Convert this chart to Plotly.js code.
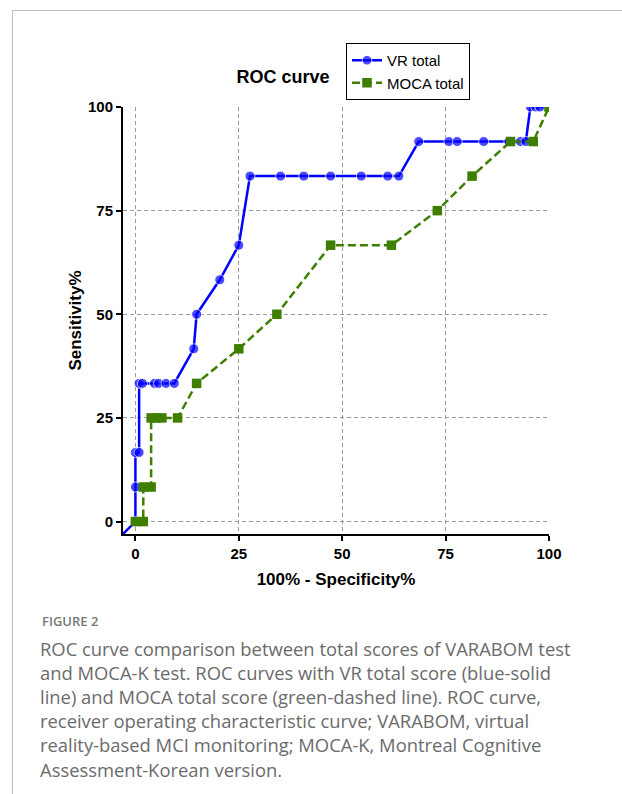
<!DOCTYPE html>
<html>
<head>
<meta charset="utf-8">
<script src="https://cdn.plot.ly/plotly-3.0.1.min.js"></script>
<style>
  html, body { margin: 0; padding: 0; background: #fff; }
  #wrap { position: relative; width: 622px; height: 794px; }
  #chart { position: absolute; left: 0; top: 0; width: 622px; height: 794px; }
  #frame { position: absolute; left: 12px; top: 10px; width: 610px; height: 784px;
           border-top: 1px solid #bdbdbd; border-left: 1px solid #bdbdbd; pointer-events: none; }
</style>
</head>
<body>
<div id="wrap"><div id="chart"></div><div id="frame"></div></div>
<script>
// ---- data ----
const vrX = [-5, 0, 0, 0, 0.9, 0.9, 1.7, 4.6, 5.6, 7.4, 9.4, 14.1, 14.8, 20.4, 25.0,
             27.7, 35.1, 40.7, 47.2, 54.6, 61.0, 63.7,
             68.5, 75.8, 77.8, 84.2, 90.3, 93.1, 94.4,
             95.5, 96.8, 97.8, 100];
const vrY = [-5, 0, 8.33, 16.67, 16.67, 33.33, 33.33, 33.33, 33.33, 33.33, 33.33, 41.67, 50, 58.33, 66.67,
             83.33, 83.33, 83.33, 83.33, 83.33, 83.33, 83.33,
             91.67, 91.67, 91.67, 91.67, 91.67, 91.67, 91.67,
             100, 100, 100, 100];
const mocaX = [0, 1.9, 1.9, 3.8, 3.8, 5.0, 6.4, 10.2, 14.8, 25.0, 34.2, 47.2, 61.9, 73.0, 81.4, 90.7, 96.2, 100];
const mocaY = [0, 0, 8.33, 8.33, 25, 25, 25, 25, 33.33, 41.67, 50, 66.67, 66.67, 75, 83.33, 91.67, 91.67, 100];
const tickVals = [0, 25, 50, 75, 100];
const seriesNames = ['VR total', 'MOCA total'];
const chartTitle = 'ROC curve';
const xTitle = '100% - Specificity%';
const yTitle = 'Sensitivity%';
const captionHead = 'FIGURE 2';
const captionLines = [
  'ROC curve comparison between total scores of VARABOM test',
  'and MOCA-K test. ROC curves with VR total score (blue-solid',
  'line) and MOCA total score (green-dashed line). ROC curve,',
  'receiver operating characteristic curve; VARABOM, virtual',
  'reality-based MCI monitoring; MOCA-K, Montreal Cognitive',
  'Assessment-Korean version.'
];

// ---- geometry helpers (pixels -> paper) ----
const W = 622, H = 794;
const M = {l: 123, r: 73, t: 107, b: 260};
const plotW = W - M.l - M.r, plotH = H - M.t - M.b;
const px2x = px => (px - M.l) / plotW;
const py2y = py => (H - M.b - py) / plotH;

const vrSizes = vrX.map(x => (x < 0 ? 0 : 10));

const traces = [
  {
    x: vrX, y: vrY, name: seriesNames[0], type: 'scatter', mode: 'lines+markers',
    line: {color: '#0000ff', width: 2.5},
    marker: {color: '#0000ff', size: vrSizes, symbol: 'circle'},
    cliponaxis: true
  },
  {
    x: mocaX, y: mocaY, name: seriesNames[1], type: 'scatter', mode: 'lines+markers',
    line: {color: '#3f7f00', width: 2.5, dash: '8px,4px'},
    marker: {color: '#3f7f00', size: 9.5, symbol: 'square'},
    cliponaxis: true
  }
];

const axisCommon = {
  tickvals: tickVals, ticktext: tickVals.map(String),
  ticks: 'outside', ticklen: 5, tickwidth: 2, tickcolor: '#000',
  showline: true, linewidth: 2, linecolor: '#000',
  showgrid: true, gridcolor: '#9a9a9a', gridwidth: 1, griddash: '4px,3px',
  zeroline: false,
  tickfont: {family: 'Arial, "Liberation Sans", sans-serif', size: 15, color: '#000', weight: 'bold'}
};

const annotations = [
  {xref: 'paper', yref: 'paper', x: px2x(40), y: py2y(621), xanchor: 'left', yanchor: 'middle',
   text: captionHead, showarrow: false,
   font: {family: '"Open Sans", sans-serif', size: 13, color: '#777', weight: 600}}
];
captionLines.forEach((t, i) => {
  annotations.push({xref: 'paper', yref: 'paper', x: px2x(38), y: py2y(648 + i * 24.2),
    xanchor: 'left', yanchor: 'middle', text: t, showarrow: false,
    font: {family: '"Open Sans", sans-serif', size: 18.4, color: '#6b6b6b'}});
});

const layout = {
  width: W, height: H,
  margin: M,
  paper_bgcolor: '#fff', plot_bgcolor: '#fff',
  showlegend: true,
  title: {text: chartTitle, xref: 'paper', x: px2x(283), xanchor: 'center',
          yref: 'container', y: 1 - 77 / H, yanchor: 'middle',
          font: {family: 'Arial, "Liberation Sans", sans-serif', size: 18, color: '#000', weight: 'bold'}},
  xaxis: Object.assign({}, axisCommon, {
    range: [-3, 100],
    title: {text: xTitle, standoff: 12,
            font: {family: 'Arial, "Liberation Sans", sans-serif', size: 17, color: '#000', weight: 'bold'}}
  }),
  yaxis: Object.assign({}, axisCommon, {
    range: [-3, 100],
    title: {text: yTitle, standoff: 2,
            font: {family: 'Arial, "Liberation Sans", sans-serif', size: 17, color: '#000', weight: 'bold'}}
  }),
  legend: {x: px2x(346), y: py2y(43), xanchor: 'left', yanchor: 'top',
           bordercolor: '#000', borderwidth: 1, bgcolor: '#fff',
           font: {family: 'Arial, "Liberation Sans", sans-serif', size: 15, color: '#000'},
           itemwidth: 30},
  annotations: annotations
};

Plotly.newPlot('chart', traces, layout, {displayModeBar: false, staticPlot: true});
</script>
</body>
</html>
